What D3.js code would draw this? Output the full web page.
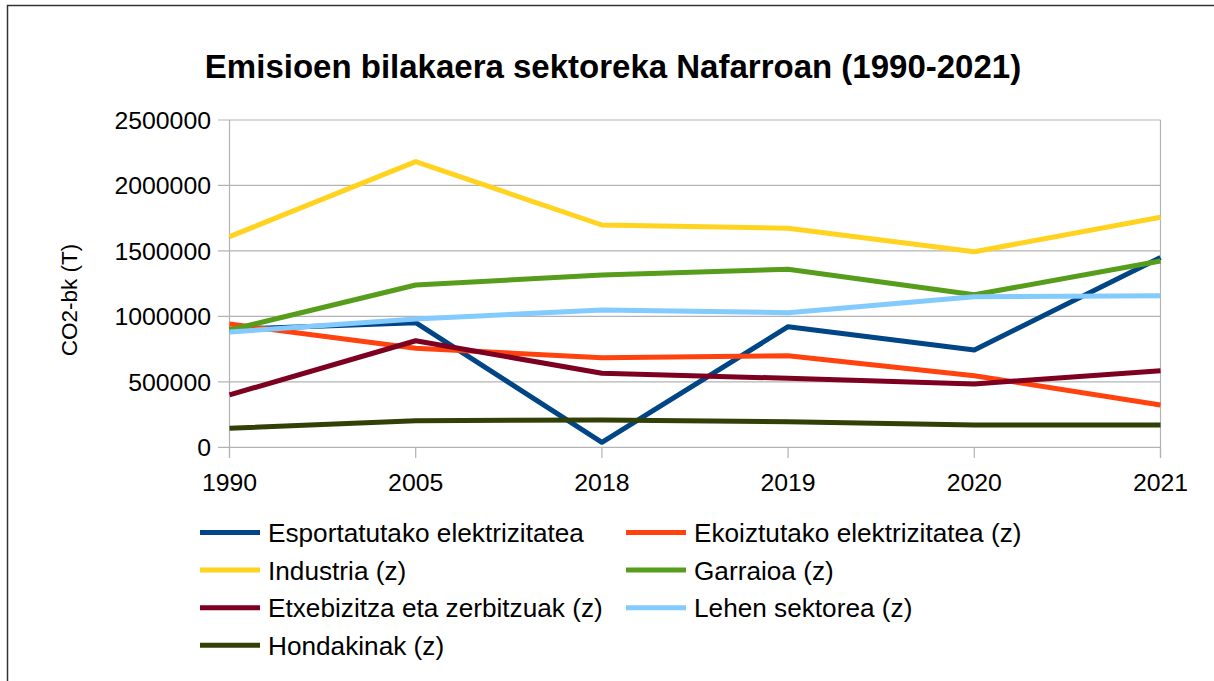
<!DOCTYPE html>
<html><head><meta charset="utf-8">
<script src="https://cdn.jsdelivr.net/npm/d3@7/dist/d3.min.js"></script>
<style>body{margin:0;background:#fff}svg{display:block;font-family:"Liberation Sans",Arial,sans-serif}</style>
</head><body><svg id="c" width="1214" height="681"></svg>
<script>
const title = "Emisioen bilakaera sektoreka Nafarroan (1990-2021)";
const yTitle = "CO2-bk (T)";
const years = ["1990","2005","2018","2019","2020","2021"];
const yTicks = [0,500000,1000000,1500000,2000000,2500000];
const seriesNames = ["Esportatutako elektrizitatea","Ekoiztutako elektrizitatea (z)","Industria (z)","Garraioa (z)","Etxebizitza eta zerbitzuak (z)","Lehen sektorea (z)","Hondakinak (z)"];
const seriesColors = ["#004586","#ff420e","#ffd320","#579d1c","#7e0021","#83caff","#314004"];
const esportatutako = [900000,952000,38000,921000,743000,1449000];
const ekoiztutako = [942000,756000,684000,700000,547000,323000];
const industria = [1609000,2182000,1698000,1673000,1494000,1757000];
const garraioa = [896000,1240000,1316000,1360000,1165000,1423000];
const etxebizitza = [400000,814000,565000,527000,484000,585000];
const lehen = [880000,980000,1049000,1028000,1150000,1158000];
const hondakinak = [145000,203000,209000,196000,170000,170000];
const seriesValues = [esportatutako,ekoiztutako,industria,garraioa,etxebizitza,lehen,hondakinak];

const svg = d3.select("#c");
// frame
svg.append("path").attr("d","M7.5,690V5.5H1220").attr("fill","none").attr("stroke","#000").attr("stroke-width",1.5).attr("opacity",0.8);

const x = d3.scalePoint().domain(years).range([229.5,1160.5]).padding(0);
const y = d3.scaleLinear().domain([0,2500000]).range([447.3,120]);

svg.append("text").attr("x",613).attr("y",78).attr("text-anchor","middle")
  .attr("font-size",33).attr("font-weight","bold").text(title);

// grid
svg.append("g").selectAll("line").data(yTicks).join("line")
  .attr("x1",218).attr("x2",1160.5).attr("y1",d=>y(d)).attr("y2",d=>y(d))
  .attr("stroke","#b3b3b3").attr("stroke-width",1.2);
// right border of plot
svg.append("line").attr("x1",x("2021")).attr("x2",x("2021")).attr("y1",y(2500000)).attr("y2",458).attr("stroke","#b3b3b3").attr("stroke-width",1.2);
// y axis
svg.append("line").attr("x1",229.5).attr("x2",229.5).attr("y1",y(2500000)).attr("y2",458).attr("stroke","#b3b3b3").attr("stroke-width",1.2);
// x ticks
svg.append("g").selectAll("line").data(years).join("line")
  .attr("x1",d=>x(d)).attr("x2",d=>x(d)).attr("y1",y(0)).attr("y2",458)
  .attr("stroke","#b3b3b3").attr("stroke-width",1.2);

svg.append("g").selectAll("text").data(yTicks).join("text")
  .attr("x",211).attr("y",d=>y(d)+9).attr("text-anchor","end").attr("font-size",24.8).text(d=>d);
svg.append("g").selectAll("text").data(years).join("text")
  .attr("x",d=>x(d)).attr("y",491).attr("text-anchor","middle").attr("font-size",24.8).text(d=>d);

svg.append("text").attr("transform","translate(77,300) rotate(-90)").attr("text-anchor","middle")
  .attr("font-size",22.5).text(yTitle);

const line = d3.line().x((d,i)=>x(years[i])).y(d=>y(d));
svg.append("g").selectAll("path").data(seriesValues).join("path")
  .attr("d",line).attr("fill","none").attr("stroke",(d,i)=>seriesColors[i])
  .attr("stroke-width",5).attr("stroke-linejoin","round");

// legend
const lg = svg.append("g");
seriesNames.forEach((n,i)=>{
  const col = i%2, row = Math.floor(i/2);
  const lx = col===0?200:626, ly = 532.5 + row*37.6;
  lg.append("line").attr("x1",lx).attr("x2",lx+60).attr("y1",ly).attr("y2",ly)
    .attr("stroke",seriesColors[i]).attr("stroke-width",5);
  lg.append("text").attr("x",lx+68).attr("y",ly+9.5).attr("font-size",26.2).text(n);
});
</script></body></html>
